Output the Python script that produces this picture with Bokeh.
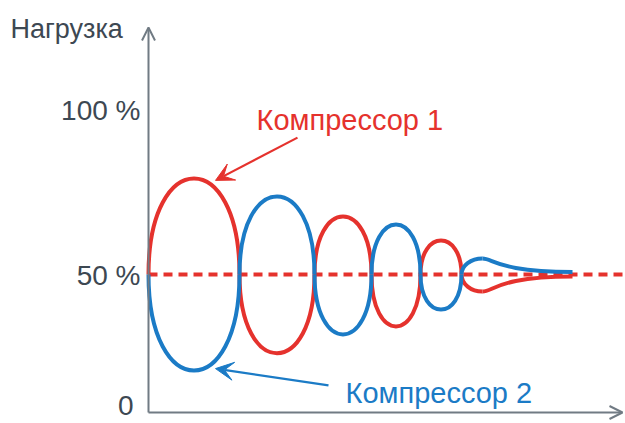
import numpy as np
from bokeh.plotting import figure
from bokeh.models import Range1d, Arrow, OpenHead, VeeHead, ColumnDataSource
from bokeh.core.properties import value
from bokeh.embed import file_html
from bokeh.resources import INLINE

# ---- data ----
# crossing times of the two compressor curves (lobe boundaries)
cross_t = [0.0, 9.1, 16.6, 22.3, 27.2, 31.3]
# extreme load (%) reached in each lobe
red_peak = [84.8, 21.5, 71.0, 31.2, 62.3]
blue_peak = [15.2, 78.3, 28.3, 68.1, 37.3]
# damped tail after the last crossing: start, extreme, settled end
tail_t = [31.3, 33.4, 42.4]
tail_red = [50.0, 43.8, 49.3]
tail_blue = [50.0, 55.8, 50.9]
setpoint = 50.0
tick_values = [2.4, 49.6, 109.4]
tick_labels = ["0", "50 %", "100 %"]
axis_title = "Нагрузка"
name1 = "Компрессор 1"
name2 = "Компрессор 2"

RED = "#e5322d"
BLUE = "#1b7bc6"
GRAY = "#717b84"
TXT = "#3d4852"
FONT = value("Liberation Sans")

p = figure(width=625, height=423, output_backend="svg", toolbar_location=None,
           x_range=Range1d(-14.8, 47.7), y_range=Range1d(-3.99, 149.28),
           min_border=0, x_axis_type=None, y_axis_type=None)
p.grid.visible = False
p.outline_line_color = None
p.background_fill_color = "white"
p.border_fill_color = "white"


def lobe_src(peaks):
    t0 = np.array(cross_t[:-1])
    t1 = np.array(cross_t[1:])
    pk = np.array(peaks)
    cy = setpoint + 4.0 / 3.0 * (pk - setpoint)
    return ColumnDataSource(dict(x0=t0, y0=np.full(len(t0), setpoint), x1=t1,
                                 y1=np.full(len(t0), setpoint),
                                 cx0=t0, cy0=cy, cx1=t1, cy1=cy))


def tail_src(vals):
    k = 0.552
    ta, tb, tc = tail_t
    va, vb, vc = vals
    return ColumnDataSource(dict(
        x0=[ta, tb], y0=[va, vb], x1=[tb, tc], y1=[vb, vc],
        cx0=[ta, tb + 0.12 * (tc - tb)], cy0=[va + k * (vb - va), vb],
        cx1=[ta + (1 - k) * (tb - ta), tb + 0.18 * (tc - tb)], cy1=[vb, vc]))


# dashed set-point line
p.line(x=[0, 47.7], y=[setpoint, setpoint], line_color=RED, line_width=4,
       line_dash="9 6")

for src, col in ((lobe_src(red_peak), RED), (tail_src(tail_red), RED),
                 (lobe_src(blue_peak), BLUE), (tail_src(tail_blue), BLUE)):
    p.bezier(x0="x0", y0="y0", x1="x1", y1="y1", cx0="cx0", cy0="cy0",
             cx1="cx1", cy1="cy1", source=src, line_color=col, line_width=4)

# axes with open arrow heads
p.add_layout(Arrow(end=OpenHead(size=13, line_color=GRAY, line_width=2),
                   x_start=0, y_start=0, x_end=0, y_end=139.5,
                   line_color=GRAY, line_width=2))
p.add_layout(Arrow(end=OpenHead(size=13, line_color=GRAY, line_width=2),
                   x_start=0, y_start=0, x_end=47.4, y_end=0,
                   line_color=GRAY, line_width=2))

# tick labels
p.text(x=[-1.5, -0.8, -0.8], y=tick_values, text=tick_labels, text_align="right",
       text_baseline="middle", text_font=FONT, text_font_size="28px",
       text_color=TXT)
p.text(x=[-13.8], y=[138.8], text=[axis_title], text_align="left",
       text_baseline="middle", text_font=FONT, text_font_size="27px",
       text_color=TXT)

# compressor labels and pointer arrows
p.text(x=[10.8], y=[105.8], text=[name1], text_align="left", text_baseline="middle",
       text_font=FONT, text_font_size="29px", text_color=RED)
p.text(x=[19.7], y=[7.2], text=[name2], text_align="left", text_baseline="middle",
       text_font=FONT, text_font_size="29px", text_color=BLUE)

p.add_layout(Arrow(end=VeeHead(size=18, fill_color=RED, line_color=RED),
                   x_start=14.9, y_start=99.6, x_end=6.7, y_end=84.1,
                   line_color=RED, line_width=2.2))
p.add_layout(Arrow(end=VeeHead(size=18, fill_color=BLUE, line_color=BLUE),
                   x_start=18.0, y_start=9.8, x_end=6.7, y_end=15.9,
                   line_color=BLUE, line_width=2.2))

open("out.html", "w").write(file_html(p, INLINE))
